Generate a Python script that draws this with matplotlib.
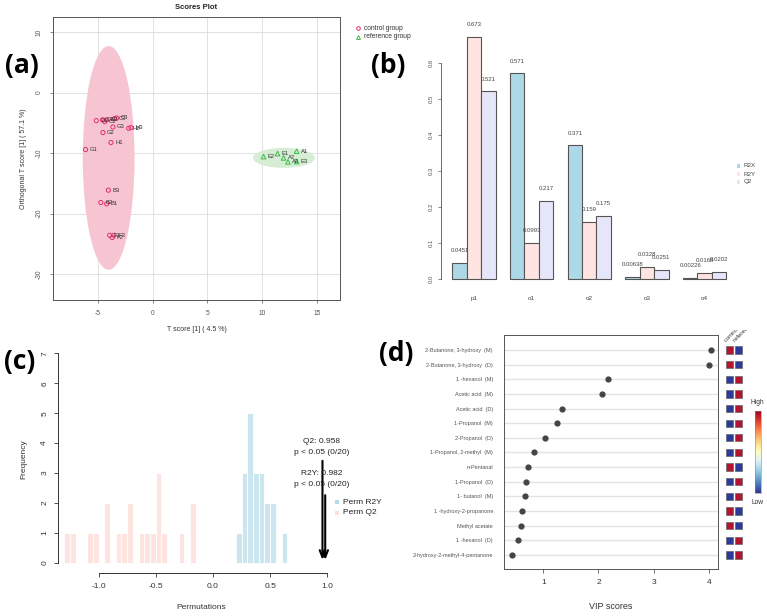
import matplotlib
matplotlib.use('Agg')
import matplotlib.pyplot as plt
import numpy as np
from matplotlib.patches import Ellipse, Rectangle
from matplotlib.lines import Line2D
from matplotlib.transforms import Bbox

plt.rcParams['font.family'] = ['Liberation Sans', 'DejaVu Sans']
plt.rcParams['axes.unicode_minus'] = False

# ---------------- data ----------------
# (a) OPLS-DA scores
control_labels = ["D1", "D2", "C1", "D3", "C2", "C3", "G3", "H2", "H3", "G2", "H1", "G1",
                  "B3", "B2", "B1", "F1", "F3", "F2"]
control_x = [-5.15, -4.57, -4.39, -4.20, -3.47, -3.29, -3.63, -2.19, -1.98, -4.54, -3.81, -6.13,
             -4.05, -4.73, -4.20, -3.93, -3.54, -3.69]
control_y = [-4.63, -4.50, -4.80, -4.50, -4.30, -4.20, -5.69, -5.90, -5.79, -6.61, -8.26, -9.42,
             -16.14, -18.18, -18.40, -23.60, -23.60, -23.97]
reference_labels = ["E2", "E1", "A1", "A2", "A3", "E3"]
reference_x = [10.12, 11.40, 13.14, 11.95, 12.35, 13.14]
reference_y = [-10.58, -10.08, -9.70, -10.80, -11.46, -11.40]
control_ellipse = (-4.02, -10.8, 4.73, 37.0)     # cx, cy, width, height
reference_ellipse = (11.98, -10.8, 5.64, 3.3)

# (b) model overview
components = ["p1", "o1", "o2", "o3", "o4"]
r2x = [0.0451, 0.571, 0.371, 0.00638, 0.00226]
r2y = [0.673, 0.0993, 0.159, 0.0328, 0.0168]
q2 = [0.521, 0.217, 0.175, 0.0251, 0.0202]
r2x_labels = ["0.0451", "0.571", "0.371", "0.00638", "0.00226"]
r2y_labels = ["0.673", "0.0993", "0.159", "0.0328", "0.0168"]
q2_labels = ["0.521", "0.217", "0.175", "0.0251", "0.0202"]

# (c) permutation histograms (bin left edges, counts), bin width 0.05
perm_q2_bins = [-1.30, -1.25, -1.10, -1.05, -0.95, -0.85, -0.80, -0.75, -0.65, -0.60,
                -0.55, -0.50, -0.45, -0.30, -0.20]
perm_q2_counts = [1, 1, 1, 1, 2, 1, 1, 2, 1, 1, 1, 3, 1, 1, 2]
perm_r2y_bins = [0.20, 0.25, 0.30, 0.35, 0.40, 0.45, 0.50, 0.60]
perm_r2y_counts = [1, 3, 5, 3, 3, 2, 2, 1]
q2_obs = 0.958
r2y_obs = 0.982

# (d) VIP scores
compounds = ["2-Butanone, 3-hydroxy  (M)", "2-Butanone, 3-hydroxy  (D)", "1 -hexanol  (M)",
             "Acetic acid  (M)", "Acetic acid  (D)", "1-Propanol  (M)", "2-Propanol  (D)",
             "1-Propanol, 2-methyl  (M)", "n-Pentanal", "1-Propanol  (D)", "1- butanol  (M)",
             "1 -hydroxy-2-propanone", "Methyl acetate", "1 -hexanol  (D)",
             "2-hydroxy-2-methyl-4-pentanone"]
vip = [4.04, 4.01, 2.17, 2.06, 1.34, 1.24, 1.04, 0.84, 0.72, 0.68, 0.66, 0.61, 0.59, 0.54, 0.43]
hm_control = [1, 1, 0, 0, 0, 0, 0, 0, 1, 0, 0, 1, 1, 0, 0]
hm_reference = [0, 0, 1, 1, 1, 1, 1, 1, 0, 1, 1, 0, 0, 1, 1]
hm_columns = ["control group", "reference group"]

# ---------------- figure ----------------
W, H = 767, 616
fig = plt.figure(figsize=(W / 100, H / 100), dpi=100)


def ax_px(x0, y0, x1, y1):
    return fig.add_axes([x0 / W, 1 - y1 / H, (x1 - x0) / W, (y1 - y0) / H])


def fx(px):
    return px / W


def fy(py):
    return 1 - py / H


# ---- panel (a)
axa = ax_px(53, 17, 340, 300)
axa.set_xlim(-9.1, 17.1)
axa.set_ylim(-34.3, 12.5)
axa.set_xticks([-5, 0, 5, 10, 15])
axa.set_yticks([10, 0, -10, -20, -30])
axa.grid(color='#DCDCDC', lw=0.6)
axa.set_axisbelow(True)
for s in axa.spines.values():
    s.set_color('#555555')
    s.set_linewidth(0.7)
axa.tick_params(labelsize=4.8, length=2.5, width=0.5, colors='#555555', pad=5)
for lab in axa.get_yticklabels():
    lab.set_rotation(90)
    lab.set_va('center')
cx, cy, ew, eh = control_ellipse
axa.add_patch(Ellipse((cx, cy), ew, eh, facecolor='#F6C5D1', edgecolor='none', zorder=1))
cx, cy, ew, eh = reference_ellipse
axa.add_patch(Ellipse((cx, cy), ew, eh, facecolor='#D4EDD3', edgecolor='none', zorder=1))
axa.scatter(control_x, control_y, marker='o', facecolors='none', edgecolors='#E0306A',
            s=9, linewidths=0.7, zorder=3)
axa.scatter(reference_x, reference_y, marker='^', facecolors='none', edgecolors='#3DBB4B',
            s=11, linewidths=0.7, zorder=3)
for lbl, x, y in zip(control_labels, control_x, control_y):
    axa.annotate(lbl, (x, y), xytext=(3, 0), textcoords='offset points', fontsize=4.2,
                 va='center', color='#333333', zorder=4)
for lbl, x, y in zip(reference_labels, reference_x, reference_y):
    axa.annotate(lbl, (x, y), xytext=(3, 0), textcoords='offset points', fontsize=4.2,
                 va='center', color='#333333', zorder=4)
axa.set_title("Scores Plot", fontsize=5.5, fontweight='bold', pad=6, color='#222222')
axa.set_xlabel("T score [1] ( 4.5 %)", fontsize=5, color='#333333', labelpad=6)
axa.set_ylabel("Orthogonal T score [1] ( 57.1 %)", fontsize=5, color='#333333', labelpad=6)
fig.add_artist(Line2D([fx(358)], [fy(28)], marker='o', markerfacecolor='none',
                      markeredgecolor='#E0306A', markersize=2.6, markeredgewidth=0.7,
                      transform=fig.transFigure))
fig.add_artist(Line2D([fx(358)], [fy(36.5)], marker='^', markerfacecolor='none',
                      markeredgecolor='#3DBB4B', markersize=2.8, markeredgewidth=0.7,
                      transform=fig.transFigure))
fig.text(fx(364), fy(28), "control group", fontsize=4.8, va='center', color='#333333')
fig.text(fx(364), fy(36.5), "reference group", fontsize=4.8, va='center', color='#333333')

# ---- panel (b)
axb = ax_px(441, 20, 730, 285)
axb.set_xlim(0.216, 20.26)
axb.set_ylim(-0.0167, 0.719)
series = [(r2x, r2x_labels, '#ADD8E6'), (r2y, r2y_labels, '#FFE4E1'), (q2, q2_labels, '#E6E6FA')]
group_centers = []
for g in range(len(components)):
    group_centers.append(1 + g * 4 + 1.5)
    for j, (vals, labs, col) in enumerate(series):
        left = 1 + g * 4 + j
        axb.bar(left, vals[g], width=1, align='edge', color=col, edgecolor='#555555', lw=0.8)
        axb.annotate(labs[g], (left + 0.5, vals[g]), xytext=(0, 7), textcoords='offset points',
                     ha='center', va='bottom', fontsize=4.3, color='#444444')
for s in ['top', 'right', 'bottom']:
    axb.spines[s].set_visible(False)
axb.spines['left'].set_bounds(0, 0.6)
axb.spines['left'].set_color('#555555')
axb.spines['left'].set_linewidth(0.6)
axb.set_yticks([0, 0.1, 0.2, 0.3, 0.4, 0.5, 0.6])
axb.set_yticklabels(["0.0", "0.1", "0.2", "0.3", "0.4", "0.5", "0.6"])
axb.tick_params(axis='y', labelsize=4.3, length=2.5, width=0.5, colors='#555555', pad=3)
for lab in axb.get_yticklabels():
    lab.set_rotation(90)
    lab.set_va('center')
axb.set_xticks(group_centers)
axb.set_xticklabels(components)
axb.tick_params(axis='x', length=0, labelsize=4.6, colors='#444444', pad=8)
for k, (name, col) in enumerate(zip(["R2X", "R2Y", "Q2"], ['#ADD8E6', '#FFE4E1', '#E6E6FA'])):
    yy = 166 + 8 * k
    fig.add_artist(Rectangle((fx(737), fy(yy + 1.5)), 3 / W, 3 / H, facecolor=col,
                             edgecolor='none', transform=fig.transFigure))
    fig.text(fx(744), fy(yy), name, fontsize=4.5, va='center', color='#444444')

# ---- panel (c)
axc = ax_px(58, 345, 345, 573)
axc.set_xlim(-1.355, 1.155)
axc.set_ylim(-0.344, 7.28)
axc.bar(perm_q2_bins, perm_q2_counts, width=0.05, align='edge', color='#FDE4E1',
        edgecolor='white', lw=0.6)
axc.bar(perm_r2y_bins, perm_r2y_counts, width=0.05, align='edge', color='#CBE6EF',
        edgecolor='white', lw=0.6)
for s in ['top', 'right']:
    axc.spines[s].set_visible(False)
axc.spines['left'].set_bounds(0, 7)
axc.spines['bottom'].set_bounds(-1, 1)
for s in ['left', 'bottom']:
    axc.spines[s].set_color('#333333')
    axc.spines[s].set_linewidth(0.7)
axc.set_yticks(range(0, 8))
axc.set_xticks([-1.0, -0.5, 0.0, 0.5, 1.0])
axc.set_xticklabels(["-1.0", "-0.5", "0.0", "0.5", "1.0"])
axc.tick_params(labelsize=6, length=3, width=0.6, colors='#333333', pad=4)
for lab in axc.get_yticklabels():
    lab.set_rotation(90)
    lab.set_va('center')
axc.set_ylabel("Frequency", fontsize=6, color='#333333', labelpad=10)
axc.set_xlabel("Permutations", fontsize=6, color='#333333', labelpad=10)
axc.annotate('', xy=(q2_obs, 0), xytext=(q2_obs, 3.5),
             arrowprops=dict(arrowstyle='->,head_length=0.5,head_width=0.2', color='black', lw=1.5))
axc.annotate('', xy=(r2y_obs, 0), xytext=(r2y_obs, 2.35),
             arrowprops=dict(arrowstyle='->,head_length=0.5,head_width=0.2', color='black', lw=1.5))
axc.text(q2_obs - 0.005, 4.05, "Q2: 0.958", fontsize=6, ha='center', va='center', color='#222222')
axc.text(q2_obs - 0.005, 3.7, "p < 0.05 (0/20)", fontsize=6, ha='center', va='center', color='#222222')
axc.text(q2_obs - 0.005, 2.97, "R2Y: 0.982", fontsize=6, ha='center', va='center', color='#222222')
axc.text(q2_obs - 0.005, 2.62, "p < 0.05 (0/20)", fontsize=6, ha='center', va='center', color='#222222')
for k, (name, col) in enumerate(zip(["Perm R2Y", "Perm Q2"], ['#B5DBE8', '#FDE0DC'])):
    yy = 502 + 10.5 * k
    fig.add_artist(Rectangle((fx(335), fy(yy + 2)), 4 / W, 4 / H, facecolor=col,
                             edgecolor='none', transform=fig.transFigure))
    fig.text(fx(343), fy(yy), name, fontsize=6, va='center', color='#222222')

# ---- panel (d)
axd = ax_px(504, 335, 718, 569)
rows = np.arange(1, len(compounds) + 1)
axd.set_xlim(0.287, 4.17)
axd.set_ylim(15.96, -0.025)
for r in rows:
    axd.axhline(r, color='#E3E3E3', lw=1.0, zorder=1)
axd.scatter(vip, rows, s=12, color='#444444', zorder=3)
axd.set_yticks(rows)
axd.set_yticklabels(compounds)
axd.tick_params(axis='y', length=0, labelsize=4.0, colors='#555555', pad=8)
axd.set_xticks([1, 2, 3, 4])
axd.tick_params(axis='x', labelsize=6, length=3, width=0.5, colors='#333333', pad=4)
for s in axd.spines.values():
    s.set_color('#555555')
    s.set_linewidth(0.7)
axd.set_xlabel("VIP scores", fontsize=6.5, color='#333333', labelpad=12)

axh = ax_px(725.5, 335, 742.5, 569)
axh.set_xlim(0, 2)
axh.set_ylim(15.96, -0.025)
axh.axis('off')
red, blue = '#B3152F', '#2B3A9B'
for r, c0, c1 in zip(rows, hm_control, hm_reference):
    for k, v in enumerate([c0, c1]):
        axh.add_patch(Rectangle((k + 0.07, r - 0.25), 0.86, 0.5,
                                facecolor=red if v else blue, edgecolor='#666666', lw=0.5))
clip = Bbox.from_extents(700, 0, W, H - 330)
for k, name in enumerate(hm_columns):
    t = fig.text(fx(727 + 8.5 * k), fy(343), name, fontsize=4.3, rotation=45,
                 ha='left', va='bottom', color='#333333', rotation_mode='anchor')
    t.set_clip_box(clip)
    t.set_clip_on(True)

axcb = ax_px(755, 411, 761, 493)
grad = np.linspace(0, 1, 256).reshape(-1, 1)
axcb.imshow(grad, cmap='RdYlBu_r', aspect='auto', origin='lower')
axcb.set_xticks([])
axcb.set_yticks([])
for s in axcb.spines.values():
    s.set_color('#888888')
    s.set_linewidth(0.4)
fig.text(fx(757), fy(403), "High", fontsize=4.8, ha='center', va='center', color='#333333')
fig.text(fx(757), fy(502), "Low", fontsize=4.8, ha='center', va='center', color='#333333')

# ---- panel letters
for txt, x, y in [("(a)", 5, 66), ("(b)", 371, 65), ("(c)", 4, 361), ("(d)", 379, 354)]:
    fig.text(fx(x), fy(y), txt, fontsize=19, fontweight='bold', family='Open Sans',
             ha='left', va='center', color='black')

fig.savefig("out.png", dpi=100)
